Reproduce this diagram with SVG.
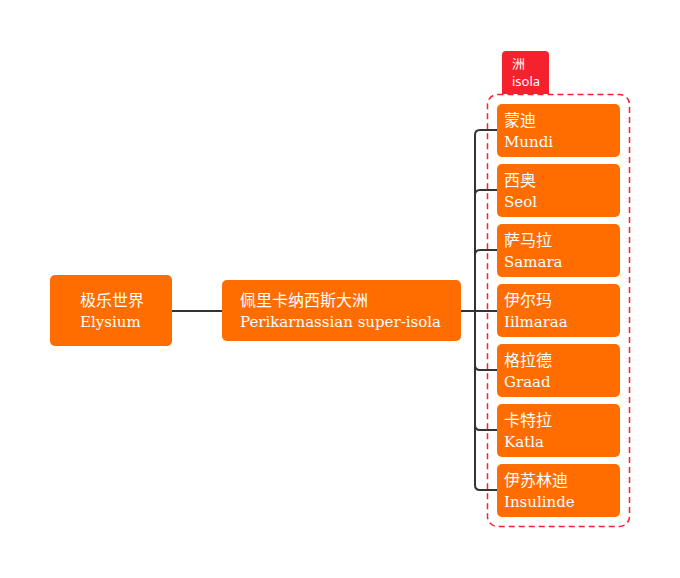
<svg xmlns="http://www.w3.org/2000/svg" width="680" height="578" viewBox="0 0 680 578">
<style>
.node{fill:#ff6d00;}
.t{font-family:"DejaVu Serif","Noto Sans CJK SC",serif;font-size:15px;fill:#ffffff;}
.z{font-family:"Noto Sans CJK SC",sans-serif;font-size:16px;fill:#ffffff;}
.c{fill:none;stroke:#333333;stroke-width:2;}
.tab{font-family:"Noto Sans","Noto Sans CJK SC",sans-serif;font-size:13px;fill:#ffffff;}
</style>
<rect width="680" height="578" fill="#ffffff"/>
<g id="connectors">
<path class="c" d="M172 311H222"/>
<path class="c" d="M461 311H497"/>
<path class="c" d="M497 130H480Q475 130 475 135V485Q475 490 480 490H497"/>
<path class="c" d="M497 190H480Q475 190 475 195"/>
<path class="c" d="M497 250H480Q475 250 475 255"/>
<path class="c" d="M497 370H480Q475 370 475 365"/>
<path class="c" d="M497 430H480Q475 430 475 425"/>
</g>
<g id="boundary">
<rect x="487.5" y="94.5" width="142" height="432" rx="10" fill="none" stroke="#f5222d" stroke-width="1.5" stroke-dasharray="6 4"/>
<path d="M502 94V55Q502 51 506 51H545Q549 51 549 55V94Z" fill="#f5222d"/>
<text class="tab" x="512" y="68">洲</text>
<text class="tab" x="512" y="86">isola</text>
</g>
<g id="elysium">
<rect class="node" x="50" y="275" width="122" height="71" rx="5"/>
<text class="z" x="80" y="306">极乐世界</text>
<text class="t" x="80" y="327">Elysium</text>
</g>
<g id="perikarnassian">
<rect class="node" x="222" y="280" width="239" height="61" rx="5"/>
<text class="z" x="240" y="306">佩里卡纳西斯大洲</text>
<text class="t" x="240" y="327">Perikarnassian super-isola</text>
</g>
<g id="mundi">
<rect class="node" x="497" y="104" width="123" height="53" rx="5"/>
<text class="z" x="504" y="126">蒙迪</text>
<text class="t" x="504" y="147">Mundi</text>
</g>
<g id="seol">
<rect class="node" x="497" y="164" width="123" height="53" rx="5"/>
<text class="z" x="504" y="186">西奥</text>
<text class="t" x="504" y="207">Seol</text>
</g>
<g id="samara">
<rect class="node" x="497" y="224" width="123" height="53" rx="5"/>
<text class="z" x="504" y="246">萨马拉</text>
<text class="t" x="504" y="267">Samara</text>
</g>
<g id="iilmaraa">
<rect class="node" x="497" y="284" width="123" height="53" rx="5"/>
<text class="z" x="504" y="306">伊尔玛</text>
<text class="t" x="504" y="327">Iilmaraa</text>
</g>
<g id="graad">
<rect class="node" x="497" y="344" width="123" height="53" rx="5"/>
<text class="z" x="504" y="366">格拉德</text>
<text class="t" x="504" y="387">Graad</text>
</g>
<g id="katla">
<rect class="node" x="497" y="404" width="123" height="53" rx="5"/>
<text class="z" x="504" y="426">卡特拉</text>
<text class="t" x="504" y="447">Katla</text>
</g>
<g id="insulinde">
<rect class="node" x="497" y="464" width="123" height="53" rx="5"/>
<text class="z" x="504" y="486">伊苏林迪</text>
<text class="t" x="504" y="507">Insulinde</text>
</g>
</svg>
